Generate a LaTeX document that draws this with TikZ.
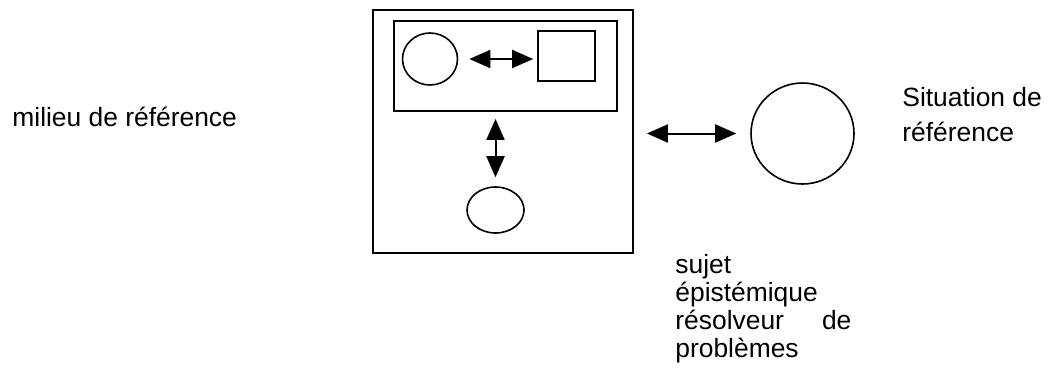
\documentclass[tikz,border=0pt]{standalone}
\usepackage{fontspec}
\setmainfont{Liberation Sans}
\usetikzlibrary{shapes.geometric, arrows.meta, positioning}

\begin{document}
\begin{tikzpicture}[x=0.5pt, y=-0.5pt,
    frame/.style={rectangle, draw, line width=0.9pt, inner sep=0pt},
    blob/.style={ellipse, draw, line width=0.8pt, inner sep=0pt},
    twoway/.style={line width=1pt, {Triangle[length=10.5pt,width=9pt]}-{Triangle[length=10.5pt,width=9pt]}},
    label/.style={font=\fontsize{13.2}{14}\selectfont, inner sep=0pt}]
\useasboundingbox (0,0) rectangle (1048,370);

% Milieu: outer and inner boxes
\node[frame, minimum width=130pt, minimum height=121.5pt] (milieu) at (503,131.5) {};
\node[frame, minimum width=111.5pt, minimum height=45pt] (inner) at (505.5,66) {};
\node[blob, minimum width=27.5pt, minimum height=26pt] (left) at (430,59) {};
\node[frame, line width=0.8pt, minimum width=28.5pt, minimum height=25pt] (square) at (566.5,56) {};
\node[blob, minimum width=28.5pt, minimum height=23pt] (sujet) at (495.5,210) {};

% Situation
\node[blob, minimum width=51.5pt, minimum height=50.5pt] (situation) at (802.5,133.5) {};

% Connectors
\draw[twoway, shorten <=5.5pt, shorten >=2pt] (left) -- (square.west |- left);
\draw[twoway, shorten <=3.5pt, shorten >=4.5pt] (inner.south -| sujet.north) -- (sujet.north);
\draw[twoway, shorten <=6.5pt, shorten >=7pt] (milieu.east |- situation.west) -- (situation.west);

% Labels (base = last line)
\node[label, anchor=base west] (milieulbl) at (12,126) {milieu de référence};
\node[label, anchor=base west, align=left, font=\fontsize{13.2}{17.5}\selectfont] (sitlbl) at (902,141) {Situation de\\référence};
\node[label, anchor=base west, align=left] (sujetlbl) at (675,357) {sujet\\épistémique\\\hbox to 88pt{résolveur\hfill de}\\problèmes};
\end{tikzpicture}
\end{document}
